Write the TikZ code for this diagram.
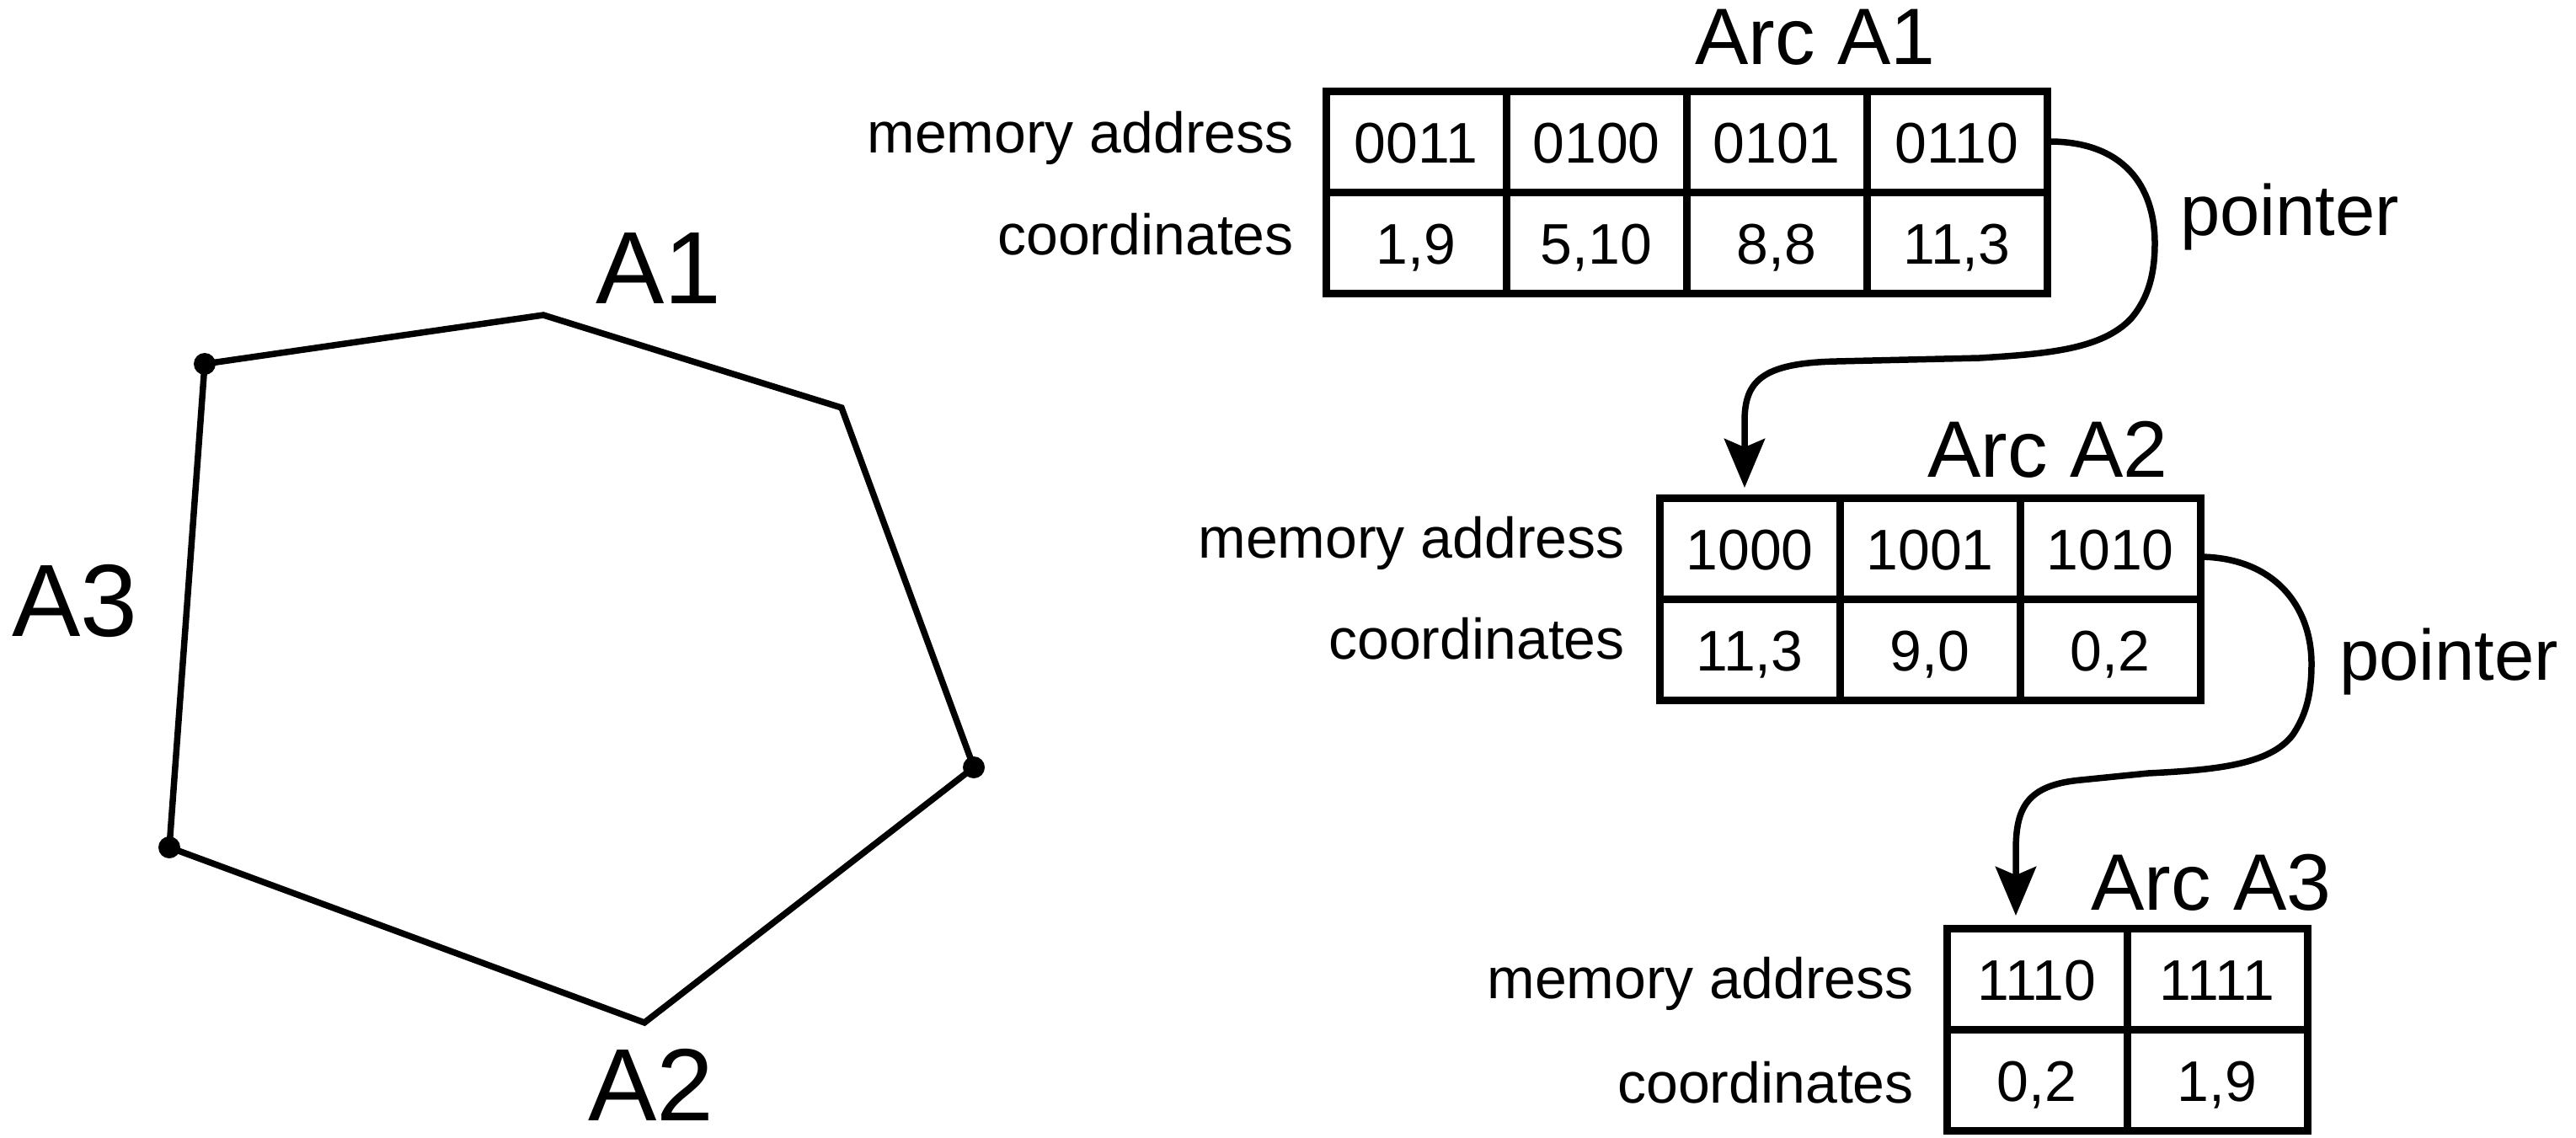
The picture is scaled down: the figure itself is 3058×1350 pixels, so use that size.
\documentclass[tikz,border=0pt]{standalone}
\usepackage{fontspec}
\setmainfont{Liberation Sans}
\usetikzlibrary{arrows.meta}
\begin{document}
\begin{tikzpicture}[x=1pt,y=-1pt,
  tcell/.style={draw, line width=9pt, minimum width=214pt, minimum height=120pt, inner sep=0pt, outer sep=0pt, text height=50pt, text depth=0pt, font=\fontsize{68}{80}\selectfont},
  rowlabel/.style={anchor=base east, inner sep=0pt, font=\fontsize{68}{80}\selectfont},
  arctitle/.style={anchor=base, inner sep=0pt, font=\fontsize{95}{110}\selectfont},
  ptr/.style={anchor=base west, inner sep=0pt, font=\fontsize{85}{100}\selectfont},
  arclabel/.style={anchor=base, inner sep=0pt, font=\fontsize{122}{136}\selectfont},
  polyline/.style={line width=7.5pt},
  link/.style={line width=7.5pt, -{Stealth[length=58pt,width=48pt,inset=10pt]}},
  vdot/.style={circle, fill, inner sep=0pt, minimum size=26pt}]
\path[use as bounding box] (0,0) rectangle (3058,1350);

% polygon
\node[vdot] (p1) at (243,432) {};
\coordinate (p2) at (645,374);
\coordinate (p3) at (999,484);
\node[vdot] (p4) at (1156,911) {};
\coordinate (p5) at (765,1214);
\node[vdot] (p6) at (201,1006) {};
\draw[polyline] (p1.center) -- (p2) -- (p3) -- (p4.center) -- (p5) -- (p6.center) -- cycle;
\node[arclabel] (lA1) at (782,360) {A1};
\node[arclabel] (lA2) at (773,1330) {A2};
\node[arclabel] (lA3) at (89,755) {A3};

% table A1
\node[arctitle] (tA1) at (2155,76) {Arc A1};
\node[tcell] (a11) at (1681,168) {0011};
\node[tcell] (a12) at (1895,168) {0100};
\node[tcell] (a13) at (2109,168) {0101};
\node[tcell] (a14) at (2323,168) {0110};
\node[tcell] (b11) at (1681,288) {1,9};
\node[tcell] (b12) at (1895,288) {5,10};
\node[tcell] (b13) at (2109,288) {8,8};
\node[tcell] (b14) at (2323,288) {11,3};
\node[rowlabel] (ma1) at (1536,181) {memory address};
\node[rowlabel] (co1) at (1536,302) {coordinates};
\node[ptr] (pt1) at (2588,279) {pointer};

% table A2
\node[arctitle] (tA2) at (2431,566) {Arc A2};
\node[tcell] (a21) at (2077,651) {1000};
\node[tcell] (a22) at (2291,651) {1001};
\node[tcell] (a23) at (2505,651) {1010};
\node[tcell] (b21) at (2077,771) {11,3};
\node[tcell] (b22) at (2291,771) {9,0};
\node[tcell] (b23) at (2505,771) {0,2};
\node[rowlabel] (ma2) at (1929,662) {memory address};
\node[rowlabel] (co2) at (1929,782) {coordinates};
\node[ptr] (pt2) at (2777,807) {pointer};

% table A3
\node[arctitle] (tA3) at (2625,1080) {Arc A3};
\node[tcell] (a31) at (2418,1162) {1110};
\node[tcell] (a32) at (2632,1162) {1111};
\node[tcell] (b31) at (2418,1282) {0,2};
\node[tcell] (b32) at (2632,1282) {1,9};
\node[rowlabel] (ma3) at (2272,1185) {memory address};
\node[rowlabel] (co3) at (2272,1309) {coordinates};

% pointers
\draw[link] (a14.east) .. controls (2520,167) and (2558,220) .. (2558,289)
  .. controls (2558,335) and (2545,360) .. (2530,378)
  .. controls (2495,415) and (2430,420) .. (2350,425)
  -- (2180,429)
  .. controls (2092,431) and (2071,452) .. (2071,500)
  -- ([xshift=-6pt,yshift=12pt]a21.north);
\draw[link] ([yshift=-10pt]a23.east) .. controls (2700,662) and (2744,720) .. (2744,788)
  .. controls (2744,830) and (2735,852) .. (2722,872)
  .. controls (2695,908) and (2630,914) .. (2550,918)
  -- (2470,926)
  .. controls (2405,932) and (2393,960) .. (2393,1010)
  -- ([xshift=-25pt,yshift=15pt]a31.north);
\end{tikzpicture}
\end{document}
